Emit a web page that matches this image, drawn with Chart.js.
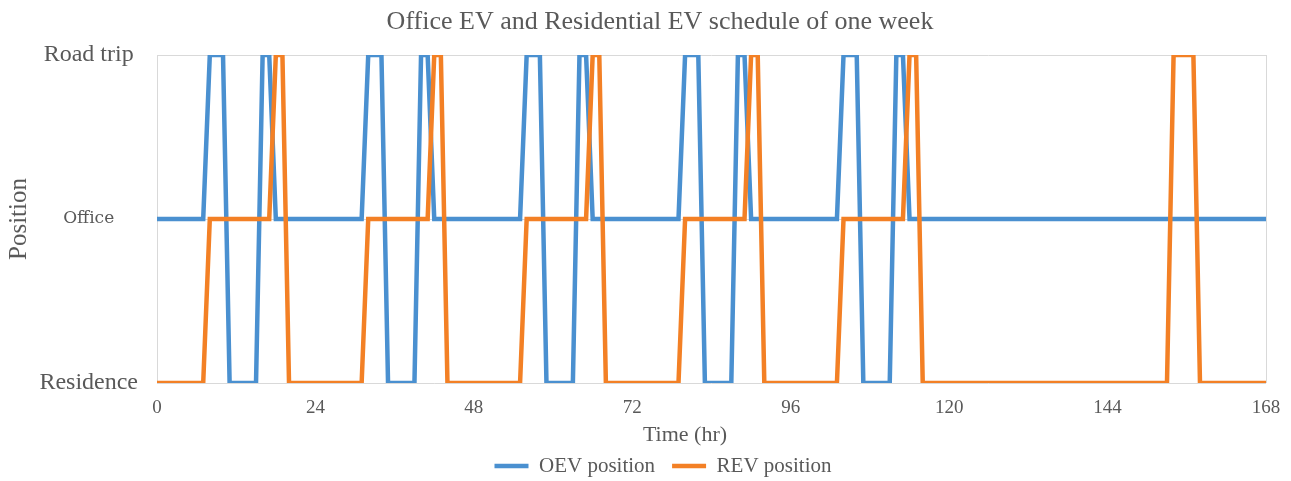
<!DOCTYPE html>
<html lang="en">
<head>
<meta charset="utf-8">
<title>Office EV and Residential EV schedule of one week</title>
<script src="https://cdn.jsdelivr.net/npm/chart.js@4.4.1/dist/chart.umd.min.js"></script>
<style>
  html, body { margin: 0; padding: 0; background: #fff; }
  #schedule { display: block; }
</style>
</head>
<body>
<canvas id="schedule" width="1291" height="481"></canvas>
<script>
// Hour of the week (0..168)
const HOURS = Array.from({ length: 169 }, (_, h) => h);

// Position codes: 0 = Residence, 1 = Office, 2 = Road trip
const POSITION_LABELS = ['Residence', 'Office', 'Road trip'];
const X_TICKS_STEP = 24;

// Office EV, one row per day
const OEV_POSITION = [
    1,1,1,1,1,1,1,1,2,2,2,0,0,0,0,0,2,2,1,1,1,1,1,1,
    1,1,1,1,1,1,1,1,2,2,2,0,0,0,0,0,2,2,1,1,1,1,1,1,
    1,1,1,1,1,1,1,1,2,2,2,0,0,0,0,0,2,2,1,1,1,1,1,1,
    1,1,1,1,1,1,1,1,2,2,2,0,0,0,0,0,2,2,1,1,1,1,1,1,
    1,1,1,1,1,1,1,1,2,2,2,0,0,0,0,0,2,2,1,1,1,1,1,1,
    1,1,1,1,1,1,1,1,1,1,1,1,1,1,1,1,1,1,1,1,1,1,1,1,
    1,1,1,1,1,1,1,1,1,1,1,1,1,1,1,1,1,1,1,1,1,1,1,1,
    1
];

// Residential EV, one row per day
const REV_POSITION = [
    0,0,0,0,0,0,0,0,1,1,1,1,1,1,1,1,1,1,2,2,0,0,0,0,
    0,0,0,0,0,0,0,0,1,1,1,1,1,1,1,1,1,1,2,2,0,0,0,0,
    0,0,0,0,0,0,0,0,1,1,1,1,1,1,1,1,1,1,2,2,0,0,0,0,
    0,0,0,0,0,0,0,0,1,1,1,1,1,1,1,1,1,1,2,2,0,0,0,0,
    0,0,0,0,0,0,0,0,1,1,1,1,1,1,1,1,1,1,2,2,0,0,0,0,
    0,0,0,0,0,0,0,0,0,0,0,0,0,0,0,0,0,0,0,0,0,0,0,0,
    0,0,0,0,0,0,0,0,0,0,2,2,2,2,0,0,0,0,0,0,0,0,0,0,
    0
];

const TITLE = 'Office EV and Residential EV schedule of one week';
const X_TITLE = 'Time (hr)';
const Y_TITLE = 'Position';

const BLUE = '#4A90D0';
const ORANGE = '#F38025';
const GRID = '#D9D9D9';
const TEXT = '#595959';
const SERIF = "'Liberation Serif', 'Times New Roman', serif";

Chart.defaults.font.family = SERIF;
Chart.defaults.color = TEXT;

// Small offsets for the boxes that Chart.js centres on the whole canvas
const shiftBox = (box, dx, dy) => {
    if (!box) return;
    box.left += dx; box.right += dx;
    box.top += dy; box.bottom += dy;
};

const boxNudge = {
    id: 'boxNudge',
    afterLayout(chart) {
        shiftBox(chart.titleBlock, 27, 0);
        shiftBox(chart.legend, 30, 5.5);
        shiftBox(chart.boxes.find(b => b.options && b.options.text === X_TITLE), 52, 7.5);
    }
};

const lineStyle = {
    borderWidth: 4.5,
    pointRadius: 0,
    pointHoverRadius: 0,
    tension: 0,
    borderCapStyle: 'round',
    fill: false
};

new Chart(document.getElementById('schedule'), {
    type: 'line',
    data: {
        labels: HOURS,
        datasets: [
            { label: 'OEV position', data: OEV_POSITION, borderColor: BLUE, backgroundColor: BLUE, order: 1, ...lineStyle },
            { label: 'REV position', data: REV_POSITION, borderColor: ORANGE, backgroundColor: ORANGE, order: 0, ...lineStyle }
        ]
    },
    options: {
        responsive: false,
        animation: false,
        devicePixelRatio: 1,
        events: [],
        layout: { padding: { left: 0, right: 25, top: 0, bottom: 0 } },
        plugins: {
            title: {
                display: true,
                text: TITLE,
                color: TEXT,
                font: { size: 26, weight: 'normal' },
                padding: { top: 6.4, bottom: 17.4 }
            },
            subtitle: {
                display: true,
                text: X_TITLE,
                position: 'bottom',
                weight: 500,
                color: TEXT,
                font: { size: 22, weight: 'normal', lineHeight: 0.5 },
                padding: { top: 4, bottom: 0 }
            },
            legend: {
                position: 'bottom',
                labels: {
                    usePointStyle: true,
                    pointStyle: 'line',
                    pointStyleWidth: 34,
                    padding: 17,
                    color: TEXT,
                    font: { size: 21 },
                    sort: (a, b) => a.datasetIndex - b.datasetIndex
                }
            },
            tooltip: { enabled: false }
        },
        scales: {
            x: {
                type: 'linear',
                min: 0,
                max: 168,
                afterFit: (scale) => {
                    scale.height = 35;
                    scale.paddingLeft = 0;
                    scale.paddingRight = 0;
                },
                ticks: {
                    stepSize: X_TICKS_STEP,
                    padding: 15.5,
                    font: { size: 19, lineHeight: 1 },
                    color: TEXT,
                    maxRotation: 0
                },
                grid: {
                    drawTicks: false,
                    color: (ctx) => (ctx.tick && (ctx.tick.value === 0 || ctx.tick.value === 168)) ? GRID : 'rgba(0,0,0,0)'
                },
                border: { display: false }
            },
            y: {
                min: 0,
                max: 2,
                afterFit: (scale) => { scale.width = 157; },
                ticks: {
                    stepSize: 1,
                    padding: 19,
                    crossAlign: 'center',
                    color: TEXT,
                    callback: (v) => POSITION_LABELS[v],
                    font: (ctx) => (ctx.tick && ctx.tick.value === 1)
                        ? { family: "'DejaVu Serif', serif", size: 17 }
                        : { family: SERIF, size: 24 }
                },
                grid: { drawTicks: false, color: GRID },
                border: { display: false },
                title: {
                    display: true,
                    text: Y_TITLE,
                    color: TEXT,
                    font: { size: 25 },
                    padding: { top: 4, bottom: 0 }
                }
            }
        }
    },
    plugins: [boxNudge]
});
</script>
</body>
</html>
